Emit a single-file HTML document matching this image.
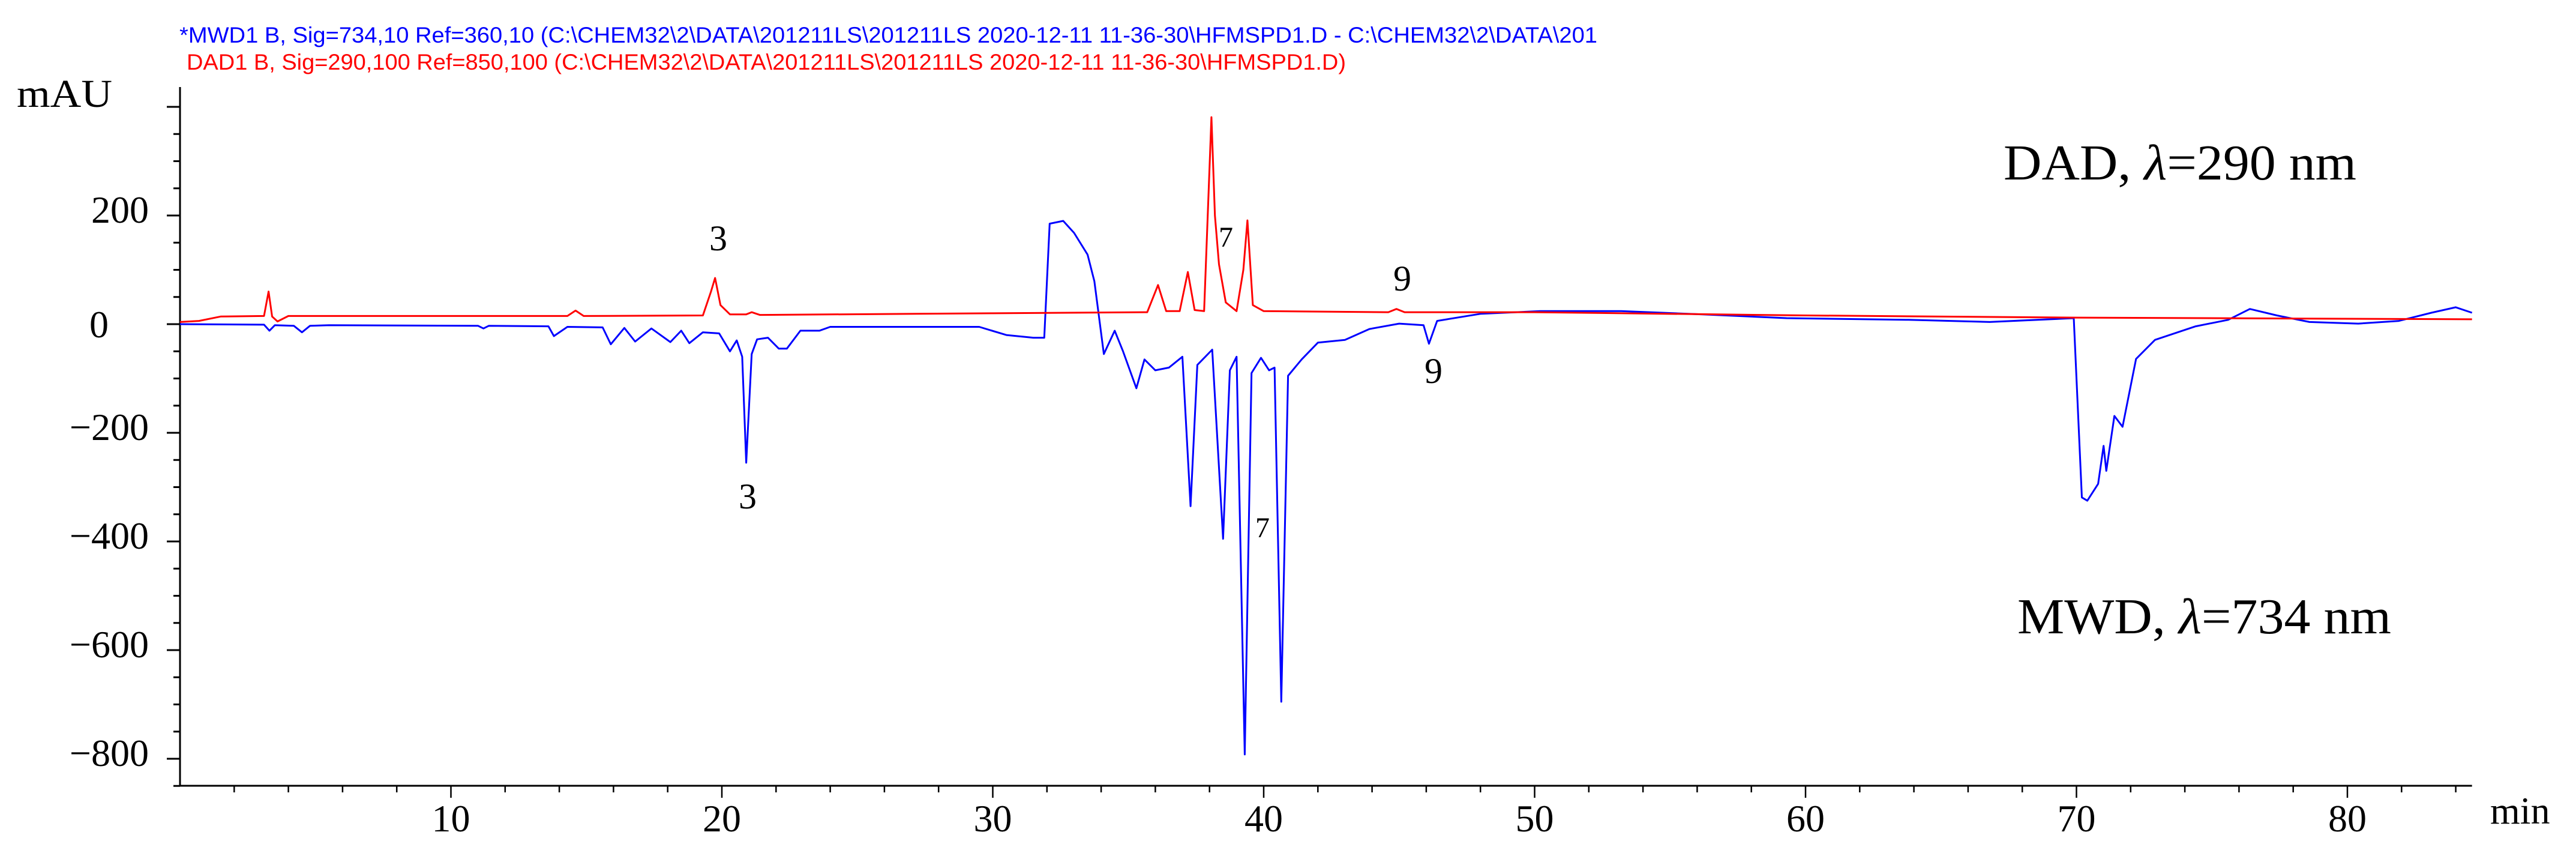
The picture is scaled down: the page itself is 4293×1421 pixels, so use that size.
<!DOCTYPE html>
<html><head><meta charset="utf-8"><style>
html,body{margin:0;padding:0;background:#fff;}
svg{display:block;}
</style></head><body>
<svg id="chart" width="4293" height="1421" viewBox="0 0 4293 1421" xmlns="http://www.w3.org/2000/svg">
<text x="299" y="71" font-family="Liberation Sans, sans-serif" font-size="37" fill="#0000ff" textLength="2363" lengthAdjust="spacingAndGlyphs">*MWD1 B, Sig=734,10 Ref=360,10 (C:\CHEM32\2\DATA\201211LS\201211LS 2020-12-11 11-36-30\HFMSPD1.D - C:\CHEM32\2\DATA\201</text>
<text x="311" y="116" font-family="Liberation Sans, sans-serif" font-size="37" fill="#ff0000" textLength="1932" lengthAdjust="spacingAndGlyphs">DAD1 B, Sig=290,100 Ref=850,100 (C:\CHEM32\2\DATA\201211LS\201211LS 2020-12-11 11-36-30\HFMSPD1.D)</text>
<text x="28" y="178" font-family="Liberation Serif, serif" font-size="66" fill="#000" textLength="159" lengthAdjust="spacingAndGlyphs">mAU</text>
<text x="4150" y="1372" font-family="Liberation Serif, serif" font-size="64" fill="#000">min</text>
<text x="3339" y="299" font-family="Liberation Serif, serif" font-size="84" fill="#000" textLength="588" lengthAdjust="spacingAndGlyphs">DAD, <tspan font-style="italic">λ</tspan>=290 nm</text>
<text x="3362" y="1055" font-family="Liberation Serif, serif" font-size="84" fill="#000" textLength="623" lengthAdjust="spacingAndGlyphs">MWD, <tspan font-style="italic">λ</tspan>=734 nm</text>
<text x="1197" y="417" text-anchor="middle" font-family="Liberation Serif, serif" font-size="60" fill="#000">3</text>
<text x="1246" y="847" text-anchor="middle" font-family="Liberation Serif, serif" font-size="60" fill="#000">3</text>
<text x="2043" y="411" text-anchor="middle" font-family="Liberation Serif, serif" font-size="48" fill="#000">7</text>
<text x="2104" y="895" text-anchor="middle" font-family="Liberation Serif, serif" font-size="48" fill="#000">7</text>
<text x="2337" y="484" text-anchor="middle" font-family="Liberation Serif, serif" font-size="60" fill="#000">9</text>
<text x="2389" y="638" text-anchor="middle" font-family="Liberation Serif, serif" font-size="60" fill="#000">9</text>
<g id="axes"></g>
<g id="series"></g>
</svg>
<script>
const xTickMajor = [10, 20, 30, 40, 50, 60, 70, 80];
const yTickLabels = [200, 0, -200, -400, -600, -800];
const dadTimes = [0, 0.7, 1.5, 3.1, 3.27, 3.4, 3.6, 4.0, 10, 14.3, 14.6, 14.9, 19.3, 19.6, 19.75, 19.95, 20.3, 20.9, 21.1, 21.4, 30, 35.7, 36.1, 36.4, 36.9, 37.2, 37.45, 37.8, 38.07, 38.2, 38.35, 38.6, 39.0, 39.25, 39.4, 39.6, 40.0, 44.6, 44.9, 45.2, 50, 60, 70, 84.6];
const dadValues = [4, 6, 14, 15, 60, 14, 5, 15, 15, 15, 25, 15, 16, 60, 85, 35, 18, 18, 22, 17, 20, 22, 72, 24, 24, 96, 26, 24, 381, 200, 110, 40, 24, 100, 191, 35, 24, 22, 28, 22, 22, 16, 12, 9];
const mwdTimes = [0, 3.1, 3.3, 3.5, 4.2, 4.5, 4.8, 5.5, 11.0, 11.2, 11.4, 13.6, 13.8, 14.3, 15.6, 15.9, 16.4, 16.8, 17.4, 18.1, 18.5, 18.8, 19.3, 19.9, 20.3, 20.55, 20.75, 20.9, 21.1, 21.3, 21.7, 22.1, 22.4, 22.9, 23.6, 24.0, 29.5, 30.5, 31.5, 31.9, 32.1, 32.6, 33.0, 33.5, 33.75, 34.1, 34.5, 34.8, 35.3, 35.6, 36.0, 36.5, 37.0, 37.3, 37.55, 38.1, 38.5, 38.75, 39.0, 39.3, 39.55, 39.9, 40.2, 40.4, 40.65, 40.9, 41.4, 42.0, 43.0, 43.9, 45.0, 45.9, 46.1, 46.4, 48.0, 50.2, 53.2, 56.2, 59.3, 63.8, 66.8, 69.9, 70.2, 70.4, 70.8, 71.0, 71.1, 71.4, 71.7, 72.2, 72.9, 74.4, 75.6, 76.4, 77.4, 78.6, 80.4, 81.9, 83.1, 84.0, 84.6];
const mwdValues = [0, -1, -12, -2, -3, -15, -3, -2, -3, -8, -3, -4, -22, -5, -6, -37, -7, -32, -8, -33, -12, -35, -15, -17, -50, -30, -60, -255, -55, -28, -25, -45, -45, -12, -12, -5, -5, -20, -25, -25, 185, 190, 168, 128, 79, -55, -12, -49, -118, -65, -85, -80, -60, -335, -75, -47, -395, -85, -60, -792, -90, -62, -85, -80, -695, -95, -65, -34, -29, -9, 1, -2, -36, 6, 19, 24, 24, 18, 11, 8, 4, 11, -319, -325, -294, -224, -270, -169, -189, -64, -29, -4, 8, 28, 16, 4, 1, 6, 21, 31, 21];

const NS = 'http://www.w3.org/2000/svg';
const X0 = 300, PXMIN = 45.15, Y0 = 540, PXU = 0.905;
function xScale(t){ return X0 + t * PXMIN; }
function yScale(v){ return Y0 - v * PXU; }
const axes = document.getElementById('axes');
const series = document.getElementById('series');
function mk(tag, attrs, parent){ const e = document.createElementNS(NS, tag); for (const k in attrs) e.setAttribute(k, attrs[k]); parent.appendChild(e); return e; }

const yAxis = mk('line', {x1: X0, y1: 145, x2: X0, y2: 1310, stroke: '#000', 'stroke-width': 3}, axes);


const xAxis = mk('line', {x1: X0, y1: 1309, x2: xScale(84.6), y2: 1309, stroke: '#000', 'stroke-width': 3}, axes);



for (let v = 400; v >= -850; v -= 50) {
  const major = v % 200 === 0;
  const tk = mk('line', {x1: major ? 278 : 289, y1: yScale(v), x2: X0, y2: yScale(v), stroke: '#000', 'stroke-width': 3}, axes);
  
  
}
yTickLabels.forEach(function(v){
  const lab = mk('text', {x: v === 0 ? 165 : 248, y: yScale(v) + (v === 0 ? 22 : 12), 'text-anchor': v === 0 ? 'middle' : 'end', 'font-family': 'Liberation Serif, serif', 'font-size': 64, fill: '#000'}, axes);
  lab.textContent = v < 0 ? '\u2212' + Math.abs(v) : String(v);
  
  
});
for (let t = 2; t <= 84; t += 2) {
  const major = t % 10 === 0;
  const tk = mk('line', {x1: xScale(t), y1: 1309, x2: xScale(t), y2: major ? 1329 : 1320, stroke: '#000', 'stroke-width': 2.5}, axes);
  
  
}
xTickMajor.forEach(function(t){
  const lab = mk('text', {x: xScale(t), y: 1385, 'text-anchor': 'middle', 'font-family': 'Liberation Serif, serif', 'font-size': 64, fill: '#000'}, axes);
  lab.textContent = String(t);
  
  
});

function pathFrom(ts, vs){ return ts.map(function(t, i){ return (i ? 'L' : 'M') + xScale(t).toFixed(1) + ',' + yScale(vs[i]).toFixed(1); }).join(' '); }
const mwd = mk('path', {d: pathFrom(mwdTimes, mwdValues), fill: 'none', stroke: '#0000ff', 'stroke-width': 3, 'stroke-linejoin': 'round'}, series);


const dad = mk('path', {d: pathFrom(dadTimes, dadValues), fill: 'none', stroke: '#ff0000', 'stroke-width': 3, 'stroke-linejoin': 'round'}, series);


</script>
</body></html>
